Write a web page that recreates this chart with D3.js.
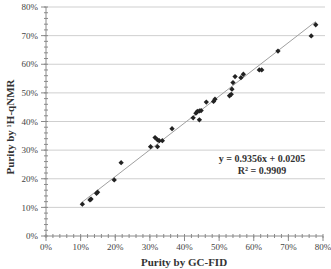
<!DOCTYPE html>
<html>
<head>
<meta charset="utf-8">
<style>
  body { margin: 0; background: #fff; }
  text { font-family: "Liberation Serif", "Times New Roman", serif; }
</style>
<script src="https://d3js.org/d3.v7.min.js"></script>
</head>
<body>
<svg width="331" height="269"></svg>
<script>
// purity by GC-FID (x) vs purity by 1H-qNMR (y), in %
var gcFid = [10.5, 12.7, 13.0, 14.6, 14.9, 19.7, 21.7, 30.2, 32.2, 31.5, 32.2, 32.7, 33.6, 36.4,
  42.5, 43.3, 43.7, 44.3, 44.8, 44.3, 46.3, 48.4, 48.8, 53.0, 53.5, 53.7, 54.0, 54.6, 56.3, 57.0,
  61.6, 62.3, 67.0, 76.6, 77.9];
var qNmr = [11.1, 12.6, 12.9, 14.9, 15.3, 19.6, 25.6, 31.2, 31.2, 34.4, 33.6, 33.3, 33.3, 37.5,
  41.3, 42.9, 43.5, 43.7, 43.8, 40.6, 46.8, 47.0, 47.8, 49.0, 49.5, 51.3, 53.6, 55.7, 55.3, 56.5,
  58.0, 58.0, 64.6, 69.9, 73.8];
var majorTicks = [0, 10, 20, 30, 40, 50, 60, 70, 80];
var minorTicks = d3.range(0, 81, 2);
var slope = 0.9356, intercept = 0.0205, r2 = 0.9909;

var svg = d3.select("svg");
var x = d3.scaleLinear().domain([0, 80]).range([46, 323]);
var y = d3.scaleLinear().domain([0, 80]).range([236, 7]);

// gridlines
svg.append("g").selectAll("line")
    .data(majorTicks.slice(1))
  .enter().append("line")
    .attr("x1", x(0)).attr("x2", 325)
    .attr("y1", function(d) { return y(d); })
    .attr("y2", function(d) { return y(d); })
    .attr("stroke", "#cfcfcf").attr("stroke-width", 1);

// axes
var axisColor = "#8a8a8a";
svg.append("line").attr("x1", x(0)).attr("x2", x(0)).attr("y1", y(0)).attr("y2", y(80))
    .attr("stroke", axisColor);
svg.append("line").attr("x1", x(0)).attr("x2", x(80)).attr("y1", y(0)).attr("y2", y(0))
    .attr("stroke", axisColor);

svg.append("g").selectAll("line").data(minorTicks).enter().append("line")
    .attr("x1", x(0) - 2).attr("x2", x(0) + 2)
    .attr("y1", function(d) { return y(d); }).attr("y2", function(d) { return y(d); })
    .attr("stroke", axisColor);
svg.append("g").selectAll("line").data(majorTicks).enter().append("line")
    .attr("x1", x(0) - 5).attr("x2", x(0))
    .attr("y1", function(d) { return y(d); }).attr("y2", function(d) { return y(d); })
    .attr("stroke", axisColor);
svg.append("g").selectAll("line").data(minorTicks).enter().append("line")
    .attr("y1", y(0) - 2).attr("y2", y(0) + 2)
    .attr("x1", function(d) { return x(d); }).attr("x2", function(d) { return x(d); })
    .attr("stroke", axisColor);
svg.append("g").selectAll("line").data(majorTicks).enter().append("line")
    .attr("y1", y(0)).attr("y2", y(0) + 5)
    .attr("x1", function(d) { return x(d); }).attr("x2", function(d) { return x(d); })
    .attr("stroke", axisColor);

// tick labels
svg.append("g").selectAll("text").data(majorTicks).enter().append("text")
    .attr("x", x(0) - 8)
    .attr("y", function(d) { return y(d); })
    .attr("dy", "0.35em")
    .attr("text-anchor", "end")
    .attr("font-size", 9).attr("fill", "#444")
    .text(function(d) { return d + "%"; });
svg.append("g").selectAll("text").data(majorTicks).enter().append("text")
    .attr("x", function(d) { return x(d); })
    .attr("y", y(0) + 14)
    .attr("text-anchor", "middle")
    .attr("font-size", 9).attr("fill", "#444")
    .text(function(d) { return d + "%"; });

// axis titles
svg.append("text")
    .attr("x", 184).attr("y", 266)
    .attr("text-anchor", "middle")
    .attr("font-size", 11).attr("font-weight", "bold").attr("fill", "#333")
    .text("Purity by GC-FID");
svg.append("text")
    .attr("transform", "translate(14,127) rotate(-90)")
    .attr("text-anchor", "middle")
    .attr("font-size", 11).attr("font-weight", "bold").attr("fill", "#333")
    .text("Purity by ¹H-qNMR");

// trendline
var xs = d3.extent(gcFid);
svg.append("line")
    .attr("x1", x(xs[0])).attr("x2", x(xs[1]))
    .attr("y1", y(100 * (slope * xs[0] / 100 + intercept)))
    .attr("y2", y(100 * (slope * xs[1] / 100 + intercept)))
    .attr("stroke", "#a0a0a0").attr("stroke-width", 1);

// points (Excel-style diamonds)
svg.append("g").selectAll("path").data(gcFid).enter().append("path")
    .attr("d", d3.symbol().type(d3.symbolSquare).size(14))
    .attr("transform", function(d, i) { return "translate(" + x(d) + "," + y(qNmr[i]) + ") rotate(45)"; })
    .attr("fill", "#222");

// equation
svg.append("text")
    .attr("x", 262).attr("y", 162)
    .attr("text-anchor", "middle")
    .attr("font-size", 10).attr("font-weight", "bold").attr("fill", "#333")
    .text("y = " + slope + "x + " + intercept);
svg.append("text")
    .attr("x", 262).attr("y", 174)
    .attr("text-anchor", "middle")
    .attr("font-size", 10).attr("font-weight", "bold").attr("fill", "#333")
    .text("R² = " + r2);
</script>
</body>
</html>
